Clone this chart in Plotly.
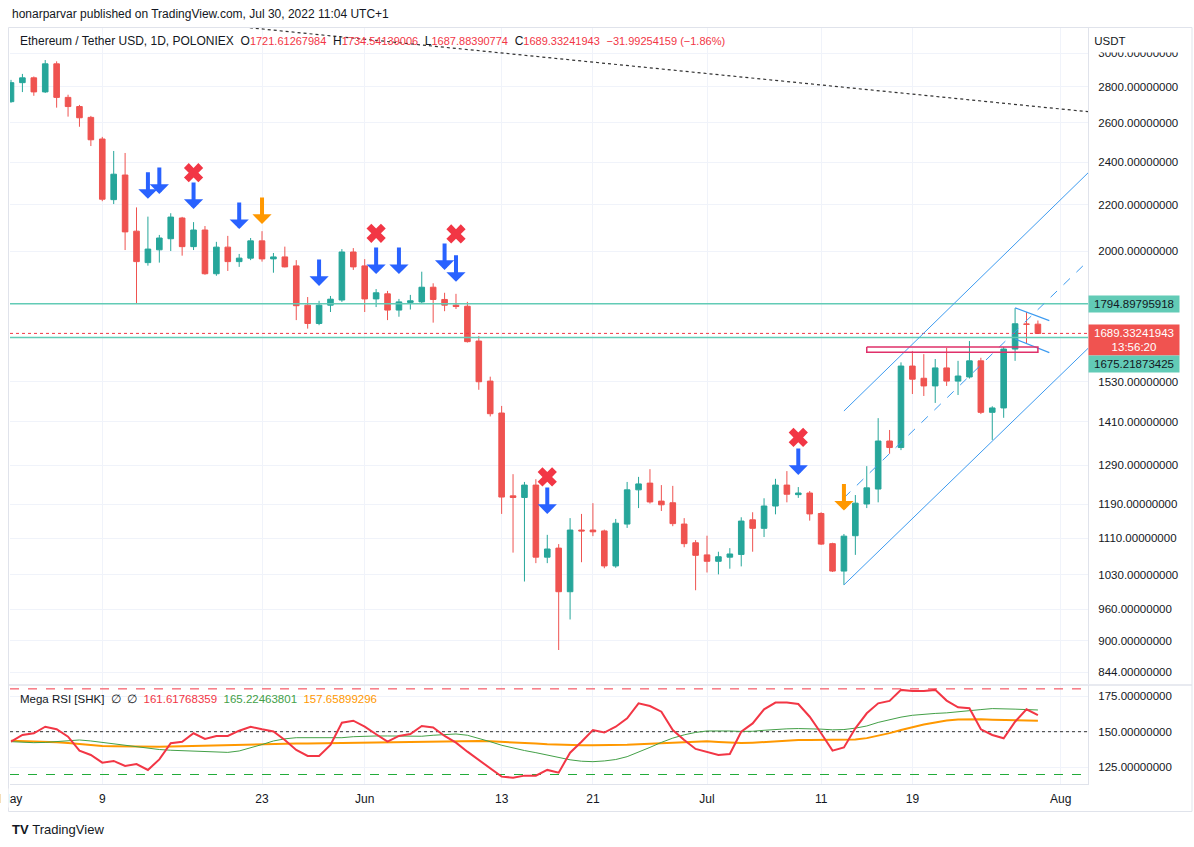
import math
import pandas as pd
import plotly.graph_objects as go

# ---------------- data ----------------
dates = pd.date_range("2022-05-01", periods=91, freq="D")

open_ = [2716, 2824, 2852, 2771, 2935, 2740, 2689, 2630, 2516, 2222,
         2337, 2083, 1953, 2005, 2051, 2140, 2018, 2088, 1909, 2016,
         1957, 1971, 2042, 1968, 1976, 1940, 1790, 1724, 1790, 1809,
         1996, 1940, 1813, 1832, 1772, 1800, 1802, 1857, 1811, 1790,
         1786, 1663, 1532, 1435, 1211, 1207, 1238, 1068, 1088, 995,
         1129, 1129, 1127, 1049, 1143, 1226, 1243, 1198, 1194, 1143,
         1100, 1073, 1059, 1068, 1074, 1153, 1133, 1186, 1238, 1214,
         1218, 1168, 1098, 1038, 1116, 1191, 1228, 1355, 1337, 1580,
         1541, 1517, 1574, 1532, 1545, 1597, 1437, 1450, 1636, 1722,
         1721.61267984]
high = [2840, 2875, 2860, 2958, 2950, 2755, 2698, 2638, 2527, 2455,
        2445, 2187, 2146, 2067, 2161, 2145, 2122, 2105, 2038, 2063,
        1988, 2054, 2083, 1992, 2018, 1963, 1820, 1806, 1824, 2008,
        2012, 1967, 1850, 1843, 1813, 1828, 1917, 1872, 1836, 1832,
        1802, 1680, 1546, 1456, 1266, 1246, 1253, 1118, 1097, 1157,
        1167, 1193, 1130, 1155, 1246, 1259, 1279, 1238, 1236, 1157,
        1106, 1116, 1080, 1088, 1159, 1171, 1205, 1254, 1274, 1233,
        1223, 1171, 1100, 1120, 1213, 1287, 1420, 1386, 1592, 1629,
        1619, 1603, 1640, 1597, 1663, 1607, 1455, 1643, 1779, 1765,
        1734.54139006]
low = [2710, 2770, 2749, 2765, 2683, 2634, 2580, 2480, 2215, 2202,
       2004, 1795, 1941, 1953, 2000, 1981, 2004, 1905, 1901, 1920,
       1936, 1963, 1957, 1913, 1934, 1736, 1706, 1718, 1765, 1802,
       1924, 1765, 1783, 1736, 1748, 1774, 1798, 1727, 1768, 1776,
       1658, 1505, 1425, 1167, 1078, 1016, 1055, 1055, 883, 940,
       1057, 1115, 1044, 1045, 1134, 1181, 1192, 1174, 1138, 1090,
       998, 1035, 1031, 1043, 1048, 1080, 1113, 1166, 1195, 1206,
       1151, 1095, 1036, 1009, 1073, 1181, 1195, 1320, 1330, 1492,
       1486, 1465, 1517, 1489, 1540, 1432, 1358, 1421, 1597, 1656,
       1687.88390774]
close = [2824, 2852, 2771, 2935, 2740, 2689, 2628, 2512, 2224, 2341,
         2080, 1957, 2008, 2054, 2144, 2018, 2088, 1909, 2016, 1957,
         1971, 2042, 1968, 1976, 1936, 1788, 1724, 1790, 1812, 1996,
         1936, 1813, 1836, 1772, 1802, 1806, 1857, 1811, 1790, 1785,
         1661, 1530, 1433, 1208, 1207, 1238, 1068, 1086, 995, 1129,
         1127, 1125, 1049, 1145, 1226, 1241, 1196, 1189, 1144, 1098,
         1072, 1059, 1069, 1075, 1150, 1133, 1186, 1238, 1215, 1218,
         1167, 1097, 1038, 1115, 1193, 1231, 1355, 1337, 1580, 1538,
         1517, 1574, 1532, 1548, 1597, 1437, 1450, 1636, 1723, 1721.32496102,
         1689.33241943]

rsi = [143.0, 147.7, 148.9, 153.5, 151.7, 146.5, 136.7, 133.7, 128.3, 129.5,
       126.0, 127.3, 123.2, 130.6, 141.9, 143.0, 148.9, 144.9, 147.0, 147.0,
       150.7, 153.5, 151.7, 150.1, 144.2, 137.2, 133.0, 133.0, 140.7, 156.3,
       157.7, 153.5, 148.2, 143.0, 147.0, 148.4, 154.0, 153.0, 147.0, 142.3,
       136.0, 130.2, 124.4, 118.5, 117.8, 119.2, 119.2, 123.2, 121.3, 135.3,
       143.0, 151.2, 149.4, 153.5, 159.4, 169.9, 168.0, 164.0, 151.2, 144.2,
       137.9, 136.0, 133.7, 134.4, 150.0, 155.8, 165.7, 170.4, 170.4, 169.4,
       160.5, 148.9, 136.7, 139.0, 152.4, 162.9, 169.9, 171.6, 179.3, 178.6,
       178.6, 179.3, 171.8, 167.1, 166.4, 151.7, 147.7, 145.4, 157.0, 165.7,
       161.61768359]
rsi_fast_ma = [143.0, 142.5, 142.3, 142.5, 143.2, 144.0, 144.2, 143.5, 142.5, 141.2,
               140.0, 139.0, 138.2, 137.5, 137.0, 136.6, 136.2, 135.8, 135.5, 135.5,
               136.5, 138.5, 141.0, 143.5, 145.0, 145.8, 145.8, 145.5, 145.4, 145.8,
               146.5, 147.0, 147.0, 147.0, 146.8, 146.5, 146.8, 147.5, 148.2, 148.4,
               147.5, 145.5, 143.0, 140.5, 138.5, 136.8, 135.3, 133.5, 131.8, 130.3,
               129.3, 129.0, 129.5, 130.5, 132.5, 135.5, 139.0, 142.5, 145.5, 147.8,
               149.5, 150.5, 150.7, 150.5, 150.2, 150.3, 151.0, 151.6, 152.0, 152.2,
               152.2, 151.8, 151.3, 151.5, 152.5, 154.0, 156.5, 158.5, 160.2, 161.5,
               162.3, 162.8, 163.2, 163.8, 164.5, 165.5, 166.2, 166.2, 165.8, 165.5,
               165.22463801]
rsi_slow_ma = [143.7, 143.5, 143.3, 143.0, 142.6, 142.0, 141.2, 140.5, 140.0, 139.8,
               139.6, 139.5, 139.5, 139.5, 139.6, 139.8, 140.2, 140.6, 140.8, 141.0,
               141.2, 141.3, 141.4, 141.5, 141.6, 141.7, 141.8, 141.9, 142.0, 142.2,
               142.5, 142.7, 142.9, 143.0, 143.1, 143.2, 143.3, 143.4, 143.5, 143.5,
               143.5, 143.5, 143.3, 143.0, 142.6, 142.2, 141.7, 141.2, 140.8, 140.6,
               140.5, 140.5, 140.5, 140.6, 140.8, 141.2, 141.6, 142.1, 142.6, 143.0,
               143.3, 143.3, 142.8, 142.2, 142.0, 142.3, 142.8, 143.3, 143.8, 144.1,
               144.2, 144.2, 144.2, 144.2, 144.5, 145.5, 147.0, 149.0, 151.2, 153.2,
               155.0, 156.5, 157.8, 158.5, 158.8, 158.7, 158.4, 158.1, 157.9, 157.8,
               157.65899296]

price_ticks = [3000, 2800, 2600, 2400, 2200, 2000, 1530, 1410, 1290, 1190, 1110, 1030, 960, 900, 844]
rsi_ticks = [175, 150, 125]
date_ticks = ["2022-05-01", "2022-05-09", "2022-05-23", "2022-06-01", "2022-06-13",
              "2022-06-21", "2022-07-01", "2022-07-11", "2022-07-19", "2022-08-01"]
date_labels = ["May", "9", "23", "Jun", "13", "21", "Jul", "11", "19", "Aug"]

resistance = 1794.89795918
support = 1675.21873425
rsi_upper, rsi_mid, rsi_lower = 180, 150, 120

# drawings (date, price)
channel_upper = (["2022-07-13", "2022-08-04"], [1441, 2380])
channel_lower = (["2022-07-13", "2022-08-04"], [1009, 1661])
channel_mid = (["2022-07-13", "2022-08-04"], [1206, 1987])
flag_upper = (["2022-07-28", "2022-07-31"], [1780, 1734])
flag_lower = (["2022-07-28", "2022-07-31"], [1670, 1624])
long_trend = (["2022-05-01", "2022-08-04"], [3319, 2657])
zone_dates = ["2022-07-15", "2022-07-30"]
zone_prices = [1643, 1625]

blue_arrow_dates = ["2022-05-13", "2022-05-14", "2022-05-17", "2022-05-21", "2022-05-28",
                    "2022-06-02", "2022-06-04", "2022-06-08", "2022-06-09", "2022-06-17", "2022-07-09"]
blue_arrow_prices = [2226, 2248, 2180, 2092, 1862, 1908, 1908, 1924, 1878, 1167, 1264]
orange_arrow_dates = ["2022-05-23", "2022-07-13"]
orange_arrow_prices = [2114, 1175]
cross_dates = ["2022-05-17", "2022-06-02", "2022-06-09", "2022-06-17", "2022-07-09"]
cross_prices = [2348, 2074, 2071, 1259, 1365]

# ---------------- styling / layout helpers ----------------
W, H = 1194, 847
L_PX, R_PX, T_PX, B_PX = 10, 1088, 28, 784
def px(x):
    return (x - L_PX) / (R_PX - L_PX)
def py(y):
    return (B_PX - y) / (B_PX - T_PX)

UP, DOWN = "#26a69a", "#ef5350"
TEAL_LINE = "#62cbb6"
BLUE = "#2962ff"
CH_BLUE = "#3d9bf0"
ORANGE = "#ff9800"
XRED = "#f23645"
TXT = "#131722"
GRID = "#f0f3fa"
BORDER = "#e0e3eb"
FONT = "Liberation Sans, Arial, sans-serif"
X_RANGE = ["2022-04-30 21:54", "2022-08-03 09:22"]

fig = go.Figure()

fig.add_trace(go.Candlestick(
    x=dates, open=open_, high=high, low=low, close=close,
    increasing=dict(line=dict(color=UP, width=1), fillcolor=UP),
    decreasing=dict(line=dict(color=DOWN, width=1), fillcolor=DOWN),
    whiskerwidth=0, showlegend=False, hoverinfo="skip", xaxis="x", yaxis="y"))

def add_line(xs, ys, color, width=1, dash="solid", yaxis="y"):
    fig.add_trace(go.Scatter(x=xs, y=ys, mode="lines", line=dict(color=color, width=width, dash=dash),
                             showlegend=False, hoverinfo="skip", xaxis="x", yaxis=yaxis))

# horizontal levels
add_line(X_RANGE, [resistance, resistance], TEAL_LINE, 1.5)
add_line(X_RANGE, [support, support], TEAL_LINE, 1.5)
add_line(X_RANGE, [close[-1], close[-1]], XRED, 1, "dot")

# trend drawings
add_line(*long_trend, "#333333", 1.2, "dot")
add_line(*channel_upper, CH_BLUE, 1)
add_line(*channel_lower, CH_BLUE, 1)
add_line(*channel_mid, CH_BLUE, 1, "dash")
add_line(*flag_upper, CH_BLUE, 1.2)
add_line(*flag_lower, CH_BLUE, 1.2)
add_line([zone_dates[0], zone_dates[1], zone_dates[1], zone_dates[0], zone_dates[0]],
         [zone_prices[0], zone_prices[0], zone_prices[1], zone_prices[1], zone_prices[0]],
         "#e0306a", 1.5)

# cross marks
fig.add_trace(go.Scatter(x=cross_dates, y=cross_prices, mode="markers",
                         marker=dict(symbol="x", size=17, color=XRED, line=dict(width=0)),
                         showlegend=False, hoverinfo="skip", xaxis="x", yaxis="y"))

# RSI pane
add_line(X_RANGE, [rsi_upper, rsi_upper], "#f23645", 1, "dash", "y2")
add_line(X_RANGE, [rsi_mid, rsi_mid], "#333333", 1, "dot", "y2")
add_line(X_RANGE, [rsi_lower, rsi_lower], "#22ab3a", 1, "dash", "y2")
add_line(dates, rsi_slow_ma, "#ff9800", 2, "solid", "y2")
add_line(dates, rsi_fast_ma, "#43a047", 1, "solid", "y2")
add_line(dates, rsi, "#f23645", 2, "solid", "y2")

annotations = []
# arrows
for d, p in zip(blue_arrow_dates, blue_arrow_prices):
    annotations.append(dict(x=d, y=math.log10(p), xref="x", yref="y", text="", showarrow=True,
                            ax=0, ay=-28, arrowhead=1, arrowsize=0.8, arrowwidth=4,
                            arrowcolor=BLUE, standoff=0))
for d, p in zip(orange_arrow_dates, orange_arrow_prices):
    annotations.append(dict(x=d, y=math.log10(p), xref="x", yref="y", text="", showarrow=True,
                            ax=0, ay=-28, arrowhead=1, arrowsize=0.8, arrowwidth=4,
                            arrowcolor=ORANGE, standoff=0))

# header texts
annotations.append(dict(x=px(10), y=py(14), xref="paper", yref="paper", xanchor="left", yanchor="middle",
                        text="honarparvar published on TradingView.com, Jul 30, 2022 11:04 UTC+1",
                        showarrow=False, font=dict(family=FONT, size=12, color=TXT)))
chg = close[-1] - close[-2]
pct = chg / close[-2] * 100
red_span = '<span style="color:#f23645;font-size:11px">{}</span>'
legend_txt = ("Ethereum / Tether USD, 1D, POLONIEX\u00a0\u00a0O" + red_span.format(f"{open_[-1]:.8f}") +
              "\u00a0\u00a0H" + red_span.format(f"{high[-1]:.8f}") +
              "\u00a0\u00a0L" + red_span.format(f"{low[-1]:.8f}") +
              "\u00a0\u00a0C" + red_span.format(f"{close[-1]:.8f}") +
              "\u00a0\u00a0" + red_span.format(f"\u2212{abs(chg):.8f} (\u2212{abs(pct):.2f}%)"))
annotations.append(dict(x=px(18), y=py(41), xref="paper", yref="paper", xanchor="left", yanchor="middle",
                        text=legend_txt, showarrow=False, font=dict(family=FONT, size=12, color=TXT)))
rsi_txt = ("Mega RSI [SHK]\u00a0\u00a0\u2205\u00a0\u00a0\u2205\u00a0\u00a0" +
           f'<span style="color:#f23645">{rsi[-1]:.8f}</span>\u00a0\u00a0' +
           f'<span style="color:#43a047">{rsi_fast_ma[-1]:.8f}</span>\u00a0\u00a0' +
           f'<span style="color:#ff9800">{rsi_slow_ma[-1]:.8f}</span>')
annotations.append(dict(x=px(18), y=py(699), xref="paper", yref="paper", xanchor="left", yanchor="middle",
                        text=rsi_txt, showarrow=False, font=dict(family=FONT, size=11.5, color=TXT)))
# USDT header over price scale
annotations.append(dict(x=px(1089), y=py(28.5), xref="paper", yref="paper", xanchor="left", yanchor="top",
                        text="\u00a0USDT", showarrow=False, width=96, height=20, align="left",
                        bgcolor="white", font=dict(family=FONT, size=11.5, color=TXT)))
# mask left of the chart frame (clips the first month label like the pane edge)
annotations.append(dict(x=px(0), y=py(798), xref="paper", yref="paper", xanchor="left", yanchor="middle",
                        text="", showarrow=False, width=7, height=18, bgcolor="white", borderpad=0))
# price scale labels
def price_label(val, text, bg, fg, shift, h=14):
    annotations.append(dict(x=px(1088), y=math.log10(val), xref="paper", yref="y", xanchor="left",
                            yanchor="middle", yshift=shift, text=text, showarrow=False, width=88,
                            height=h, align="center", bgcolor=bg, borderpad=1,
                            font=dict(family=FONT, size=11.5, color=fg)))
price_label(resistance, f"{resistance:.8f}", TEAL_LINE, TXT, 0)
price_label(close[-1], f"{close[-1]:.8f}<br>13:56:20", "#f05350", "white", -7, 28)
price_label(support, f"{support:.8f}", TEAL_LINE, TXT, -27)
# footer logo
annotations.append(dict(x=px(10), y=py(829), xref="paper", yref="paper", xanchor="left", yanchor="middle",
                        text="<b>TV</b>\u00a0TradingView", showarrow=False,
                        font=dict(family=FONT, size=13, color=TXT)))

shapes = [
    dict(type="rect", xref="paper", yref="paper", x0=px(8.5), x1=px(1192), y0=py(811.5), y1=py(27.5),
         line=dict(color=BORDER, width=1), layer="above"),
    dict(type="line", xref="paper", yref="paper", x0=px(8.5), x1=px(1192), y0=py(685), y1=py(685),
         line=dict(color=BORDER, width=1.5), layer="above"),
]

fig.update_layout(
    width=W, height=H, margin=dict(l=L_PX, r=W - R_PX, t=T_PX, b=H - B_PX, autoexpand=False),
    paper_bgcolor="white", plot_bgcolor="white", showlegend=False,
    font=dict(family=FONT, size=11.5, color=TXT),
    xaxis=dict(type="date", range=X_RANGE, anchor="y2", tickvals=date_ticks, ticktext=date_labels,
               showgrid=True, gridcolor=GRID, gridwidth=1, zeroline=False, showline=True,
               linecolor=BORDER, ticks="outside", ticklen=4, tickcolor="rgba(0,0,0,0)",
               ticklabeloverflow="allow", automargin=False,
               rangeslider=dict(visible=False), tickfont=dict(size=12, color=TXT)),
    yaxis=dict(type="log", domain=[py(684), 1], range=[2.9157, 3.4995], side="right", anchor="x",
               tickvals=price_ticks, ticktext=[f"{v:.8f}" for v in price_ticks], automargin=False,
               showgrid=True, gridcolor=GRID, zeroline=False, showline=True, linecolor=BORDER,
               ticks="outside", ticklen=7, tickcolor="rgba(0,0,0,0)"),
    yaxis2=dict(domain=[0, py(685)], range=[113.34, 182.73], side="right", anchor="x",
                tickvals=rsi_ticks, ticktext=[f"{v:.8f}" for v in rsi_ticks], automargin=False,
                showgrid=True, gridcolor=GRID, zeroline=False, showline=True, linecolor=BORDER,
                ticks="outside", ticklen=7, tickcolor="rgba(0,0,0,0)"),
    annotations=annotations, shapes=shapes,
)

fig.write_html("out.html")
